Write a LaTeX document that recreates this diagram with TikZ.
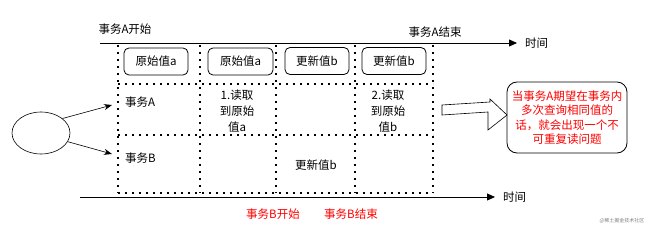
\documentclass[tikz,border=0pt]{standalone}
\usepackage{fontspec}
\setmainfont{Noto Sans CJK SC}
\usetikzlibrary{arrows.meta,shapes.geometric}
\begin{document}
\begin{tikzpicture}[x=1pt, y=-1pt,
    txt/.style={font=\fontsize{11.5}{16}\selectfont, inner sep=0pt, align=center},
    redtxt/.style={txt, text=red},
    valbox/.style={draw, line width=0.8pt, rounded corners=5pt, minimum height=27pt, inner sep=0pt, font=\fontsize{11.5}{14}\selectfont},
    dotgrid/.style={line width=1.6pt, dash pattern=on 1.6pt off 5.4pt},
    timeline/.style={-{Triangle[length=8pt,width=7pt]}, line width=0.8pt},
    flow/.style={-{Stealth[length=8pt,width=6pt]}, line width=0.6pt}]

\useasboundingbox (0,0) rectangle (653,230);

% Timelines
\coordinate (a0) at (100,43);
\coordinate (a1) at (517,43);
\draw[timeline] (a0) -- (a1);
\node[txt, anchor=west] (ta) at (525,43) {时间};
\coordinate (b0) at (80,197);
\coordinate (b1) at (495,197);
\draw[timeline] (b0) -- (b1);
\node[txt, anchor=west] (tb) at (503,197) {时间};

% Labels
\node[txt] (astart) at (125,29) {事务A开始};
\node[txt] (aend) at (435,32) {事务A结束};
\node[redtxt] (bstart) at (273,214) {事务B开始};
\node[redtxt] (bend) at (351,214) {事务B结束};

% Grid
\foreach \x in {118,200,276,355,433}
    \draw[dotgrid] (\x,45) -- (\x,193);
\foreach \y in {84,135,193}
    \draw[dotgrid] (118,\y) -- (433,\y);

% Values
\node[valbox, minimum width=64pt] (v1) at (156,61.5) {原始值a};
\node[valbox, minimum width=65pt] (v2) at (240.5,61.5) {原始值a};
\node[valbox, minimum width=64pt] (v3) at (317,61) {更新值b};
\node[valbox, minimum width=64pt] (v4) at (394,61) {更新值b};

% Cells
\node[txt, anchor=west] (rowa) at (125,102) {事务A};
\node[txt, anchor=west] (rowb) at (125,158) {事务B};
\node[txt] (reada) at (237,111) {1.读取\\到原始\\值a};
\node[txt] (readb) at (388,111) {2.读取\\到原始\\值b};
\node[txt] (upd) at (316,165) {更新值b};

% Start
\node[draw, ellipse, line width=0.6pt, minimum width=58pt, minimum height=42pt, inner sep=0pt] (txn) at (41,133) {};
\coordinate (ta0) at (112,105);
\coordinate (tb0) at (112,154);
\draw[flow] (txn.34) -- (ta0);
\draw[flow] (txn.-18) -- (tb0);

% Note
\draw[line width=0.6pt, fill=white] (442,105) -- (490,102) -- (490,99) -- (507,115) -- (488,130) -- (488,112) -- (442,115) -- cycle;
\node[draw, line width=0.8pt, rounded corners=10pt, minimum width=120pt, minimum height=71pt, inner sep=0pt,
    text=red, align=center, font=\fontsize{11.5}{14.5}\selectfont] (note) at (567,117.5)
    {当事务A期望在事务内\\多次查询相同值的\\话，就会出现一个不\\可重复读问题};

% Watermark
\node[inner sep=0pt, text=gray, font=\fontsize{5}{6}\selectfont] (mark) at (622,221) {@稀土掘金技术社区};
\end{tikzpicture}
\end{document}
